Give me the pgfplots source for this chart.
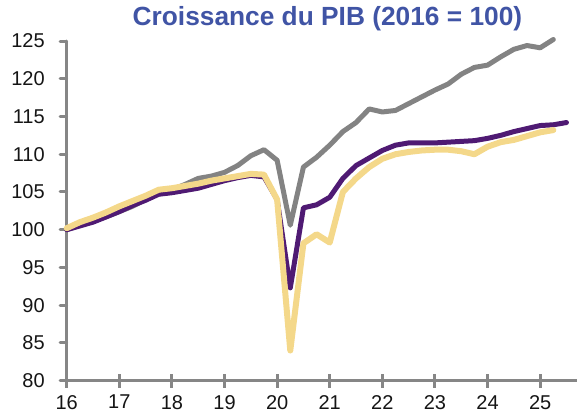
\documentclass[border=0pt]{standalone}
\usepackage{fontspec}
\setmainfont{Liberation Sans}
\usepackage{pgfplots}
\pgfplotsset{compat=1.18}
\definecolor{cgray}{HTML}{838383}
\definecolor{cpurple}{HTML}{4F1A73}
\definecolor{cyellow}{HTML}{F4D88A}
\definecolor{axgray}{HTML}{868686}
\definecolor{ctitle}{HTML}{4054A5}
\definecolor{clabel}{HTML}{151515}
\begin{document}
\begin{tikzpicture}
\pgfplotsset{
  common/.style={
    at={(0,0)}, anchor=south west,
    scale only axis, width=510.3bp, height=339.7bp,
    xmin=16, xmax=25.7, ymin=80, ymax=125,
    clip=false,
  }
}
\begin{axis}[
  common,
  axis x line*=bottom, axis y line*=left,
  axis line style={color=axgray, line width=3bp},
  xtick={16,17,...,25}, ytick={80,85,...,125},
  tick align=outside, major tick length=6.5bp,
  y tick style={color=axgray, line width=3bp},
  x tick style={draw=none},
  /pgf/number format/assume math mode=true,
  tick label style={font=\fontsize{20bp}{23bp}\selectfont, color=clabel},
  yticklabel style={xshift=-12bp},
  xticklabel style={yshift=-4.5bp},
  title={Croissance du PIB (2016 = 100)},
  title style={at={(axis description cs:0.511,1.0274)}, anchor=base,
    font=\bfseries\fontsize{26.3bp}{30bp}\selectfont, color=ctitle, inner sep=0pt},
  line join=round, line cap=round,
]
% Gray series
\addplot[color=cgray, line width=5bp] coordinates {
(16.00,100.0) (16.25,100.6) (16.50,101.2) (16.75,101.7)
(17.00,102.4) (17.25,103.1) (17.50,104.0) (17.75,104.9)
(18.00,105.3) (18.25,106.0) (18.50,106.8) (18.75,107.1)
(19.00,107.6) (19.25,108.5) (19.50,109.8) (19.75,110.6)
(20.00,109.2) (20.25,100.6) (20.50,108.3) (20.75,109.6)
(21.00,111.2) (21.25,113.0) (21.50,114.2) (21.75,116.0)
(22.00,115.6) (22.25,115.8) (22.50,116.7) (22.75,117.6)
(23.00,118.5) (23.25,119.3) (23.50,120.6) (23.75,121.5)
(24.00,121.8) (24.25,122.9) (24.50,123.9) (24.75,124.4)
(25.00,124.1) (25.25,125.2)
};
% Purple series
\addplot[color=cpurple, line width=5bp] coordinates {
(16.00,100.0) (16.25,100.5) (16.50,101.0) (16.75,101.7)
(17.00,102.4) (17.25,103.2) (17.50,103.9) (17.75,104.7)
(18.00,104.9) (18.25,105.2) (18.50,105.5) (18.75,106.0)
(19.00,106.5) (19.25,106.9) (19.50,107.2) (19.75,107.0)
(20.00,104.0) (20.25,92.3) (20.50,102.9) (20.75,103.3)
(21.00,104.3) (21.25,106.8) (21.50,108.5) (21.75,109.5)
(22.00,110.5) (22.25,111.2) (22.50,111.5) (22.75,111.5)
(23.00,111.5) (23.25,111.6) (23.50,111.7) (23.75,111.8)
(24.00,112.1) (24.25,112.5) (24.50,113.0) (24.75,113.4)
(25.00,113.8) (25.25,113.9) (25.50,114.2)
};
% Yellow series
\addplot[color=cyellow, line width=6bp] coordinates {
(16.00,100.2) (16.25,101.0) (16.50,101.6) (16.75,102.3)
(17.00,103.1) (17.25,103.8) (17.50,104.5) (17.75,105.3)
(18.00,105.5) (18.25,105.8) (18.50,106.1) (18.75,106.5)
(19.00,106.8) (19.25,107.1) (19.50,107.4) (19.75,107.3)
(20.00,104.0) (20.25,84.0) (20.50,98.2) (20.75,99.4)
(21.00,98.3) (21.25,105.0) (21.50,106.8) (21.75,108.3)
(22.00,109.4) (22.25,110.0) (22.50,110.3) (22.75,110.5)
(23.00,110.6) (23.25,110.6) (23.50,110.4) (23.75,110.0)
(24.00,111.0) (24.25,111.6) (24.50,111.9) (24.75,112.4)
(25.00,112.9) (25.25,113.2)
};
\end{axis}
\begin{axis}[
  common,
  axis x line*=bottom, axis y line=none,
  axis line style={draw=none},
  xtick={16,17,...,25}, xticklabels={}, ytick=\empty,
  tick align=center, major tick length=14bp,
  x tick style={color=axgray, line width=3bp},
]
\end{axis}
\pgfresetboundingbox
\path[use as bounding box] (-66.7bp,-34.3bp) rectangle (510.3bp,380.7bp);
\end{tikzpicture}
\end{document}
